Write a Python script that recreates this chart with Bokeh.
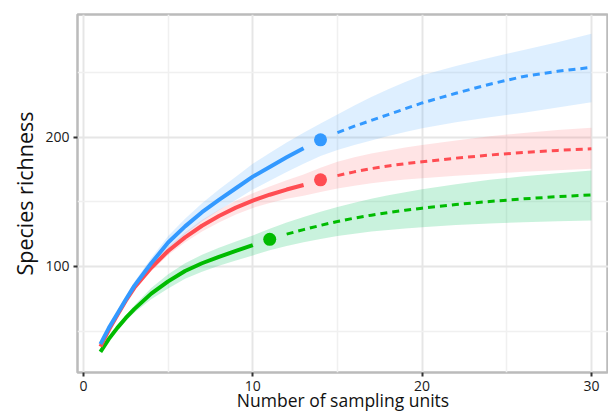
from bokeh.plotting import figure
from bokeh.models import FixedTicker, Range1d, Title
from bokeh.embed import file_html
from bokeh.resources import INLINE

# sampling units (knots)
units = [1, 1.5, 2, 2.5, 3, 4, 5, 6, 7, 8, 9, 10, 11, 12, 13, 14, 15, 16, 17, 18, 19, 20,
         22, 24, 26, 28, 30]

# blue assemblage
blue_est = [40, 52.5, 63.5, 74.5, 85, 102.5, 118.5, 131, 142, 151.5, 160.5, 169.5, 177, 184.5,
            191.5, 198, 203.5, 208.5, 213, 217.5, 222, 226.5, 234, 241, 247, 251, 254]
blue_lo = [39, 51, 61.5, 72, 82, 98.5, 113.5, 125, 135, 143.5, 151.5, 159.5, 166.3, 173.1,
           179.5, 185.4, 190, 194, 197.5, 201, 204, 207, 211.5, 215.5, 219, 223, 227]
blue_hi = [41, 54, 65.5, 77, 88, 106.5, 123.5, 137, 149, 159.5, 169.5, 179.5, 187.7, 195.9,
           203.5, 210.6, 217.5, 224.5, 231, 237, 242.7, 248, 255, 261.5, 267.5, 273.5, 280]
blue_ref = 14

# red assemblage
red_est = [38, 51, 62.5, 73.5, 83.5, 99, 112, 122.5, 131.5, 139, 145.5, 151, 155.5, 159.5,
           163, 167, 170.3, 173.2, 175.7, 177.8, 179.5, 181, 183.8, 186.2, 188.2, 189.8, 191]
red_lo = [37.2, 49.9, 61, 71.8, 81.5, 96.4, 108.8, 118.7, 127.1, 134.1, 140.2, 145.3, 149.1,
          152.3, 154.8, 157.7, 160.3, 162.5, 164.4, 166, 167.2, 168.2, 170.1, 171.8, 173.2,
          174.4, 175.5]
red_hi = [38.8, 52.1, 64, 75.3, 85.5, 101.6, 115.2, 126.3, 135.9, 143.9, 150.8, 156.7, 161.9,
          166.7, 171.2, 176.3, 181, 184.5, 187.3, 189.8, 192, 194, 197.5, 200.7, 203.3, 205.5,
          207.3]
red_ref = 14

# green assemblage
green_est = [34, 44, 52.5, 60.2, 67, 79, 88.5, 96.5, 102.5, 107.5, 112, 116.5, 121, 125, 128.5,
             131.8, 134.8, 137.4, 139.7, 141.7, 143.5, 145.1, 147.9, 150.3, 152.3, 154, 155.4]
green_lo = [33.5, 43.4, 51, 58.1, 64.2, 74.7, 83, 90.5, 96, 100.5, 104.6, 108.5, 112.6, 115.9,
            118.8, 121.3, 123.5, 125.4, 127, 128.3, 129.4, 130.4, 132, 133.3, 134.3, 135, 135.6]
green_hi = [34.5, 44.6, 54, 62.3, 69.8, 83.3, 94, 102.5, 109, 114.5, 119.3, 124, 129.2, 134,
            138.3, 142.3, 146, 149.3, 152.3, 155, 157.5, 159.7, 163.6, 167, 169.8, 172.2, 174.3]
green_ref = 11

x_ticks = [0, 10, 20, 30]
x_minor = [5, 15, 25]
y_ticks = [100, 200]
y_minor = [50, 150, 250]

FONT = "Open Sans"

p = figure(width=608, height=417, output_backend="svg", toolbar_location=None,
           x_range=Range1d(-0.354, 31.01), y_range=Range1d(18.0, 294.9),
           min_border_left=77, min_border_right=0, min_border_top=14, min_border_bottom=45,
           title=None)

p.background_fill_color = "white"
p.border_fill_color = "white"
p.outline_line_color = "#BBBBBB"
p.outline_line_width = 2.5

p.xaxis.ticker = FixedTicker(ticks=x_ticks, minor_ticks=x_minor)
p.yaxis.ticker = FixedTicker(ticks=y_ticks, minor_ticks=y_minor)
p.xgrid.ticker = FixedTicker(ticks=x_ticks, minor_ticks=x_minor)
p.ygrid.ticker = FixedTicker(ticks=y_ticks, minor_ticks=y_minor)
for g in (p.xgrid, p.ygrid):
    g.grid_line_color = "#E6E6E6"
    g.grid_line_width = 2
    g.minor_grid_line_color = "#F0F0F0"
    g.minor_grid_line_width = 1.6

for ax in (p.xaxis, p.yaxis):
    ax.axis_line_color = None
    ax.major_tick_line_color = "#333333"
    ax.major_tick_line_width = 2
    ax.major_tick_out = 4
    ax.major_tick_in = 0
    ax.minor_tick_line_color = None
    ax.major_label_text_font = FONT
    ax.major_label_text_font_size = "14px"
    ax.major_label_text_color = "#1a1a1a"
    ax.major_label_standoff = 4
    ax.axis_label_text_font = FONT
    ax.axis_label_text_font_style = "normal"
    ax.axis_label_text_color = "#111111"

# y title as a left-side title so it can sit slightly below the frame centre
ytitle = Title(text="Species richness", align="center", offset=23,
               text_font=FONT, text_font_size="21.5px", text_font_style="normal",
               text_color="#111111", standoff=8)
p.add_layout(ytitle, "left")

p.xaxis.axis_label = "Number of sampling units"
p.xaxis.axis_label_text_font_size = "17.5px"
p.xaxis.axis_label_standoff = -6

series = [
    (green_est, green_lo, green_hi, green_ref, "#00BB00", "#00C060", 0.21),
    (red_est, red_lo, red_hi, red_ref, "#FF4C52", "#FF4C52", 0.15),
    (blue_est, blue_lo, blue_hi, blue_ref, "#3399FF", "#3399FF", 0.16),
]

for est, lo, hi, ref, col, band, alpha in series:
    p.varea(x=units, y1=lo, y2=hi, fill_color=band, fill_alpha=alpha)

for est, lo, hi, ref, col, band, alpha in series:
    i = units.index(ref)
    p.line(units[:i], est[:i], line_color=col, line_width=4)
    p.line(units[i + 1:], est[i + 1:], line_color=col, line_width=3, line_dash="7 5")
    p.scatter([units[i]], [est[i]], size=13, fill_color=col, line_color=None)

open("out.html", "w").write(file_html(p, INLINE))
